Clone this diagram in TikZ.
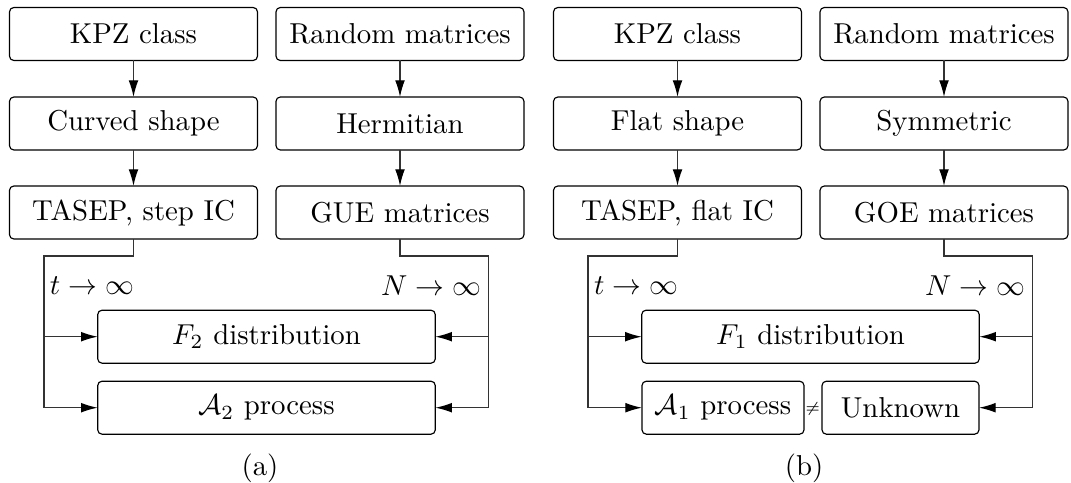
\documentclass[tikz,border=0pt]{standalone}
\usetikzlibrary{arrows.meta}
\begin{document}
\begin{tikzpicture}[x=0.3472pt,y=-0.3472pt,
  box/.style={draw,rounded corners=1.5pt,inner sep=0pt,outer sep=0pt,minimum height=18.4pt,line width=0.4pt},
  col/.style={box,minimum width=86.1pt},
  wide/.style={box,minimum width=117.2pt},
  arr/.style={line width=0.45pt,draw=black!80,-{Latex[length=5.8pt,width=3.4pt,color=black]}},
  lbl/.style={inner sep=0pt,outer sep=0pt}]
\useasboundingbox (0,0) rectangle (1071,483);
% ---------- panel (a)
\begin{scope}
\node[col] (kpza) at (133.5,34) {KPZ class};
\node[col] (cura) at (133.5,123.5) {Curved shape};
\node[col] (tasa) at (133.5,212.5) {TASEP, step IC};
\node[col] (rma) at (400,34) {Random matrices};
\node[col] (hera) at (400,123.5) {Hermitian};
\node[col] (guea) at (400,212.5) {GUE matrices};
\node[wide] (fa) at (266.5,336.7) {$F_2$ distribution};
\node[wide] (pa) at (266.5,407.7) {$\mathcal{A}_2$ process};
\draw[arr] (kpza) -- (cura);
\draw[arr] (cura) -- (tasa);
\draw[arr] (rma) -- (hera);
\draw[arr] (hera) -- (guea);
\coordinate (la) at (44,256);
\coordinate (ra) at (488.7,256);
\draw[arr] (tasa.south) |- (la) |- (pa.west);
\draw[arr] (la |- fa.west) -- (fa.west);
\draw[arr] (guea.south) |- (ra) |- (pa.east);
\draw[arr] (ra |- fa.east) -- (fa.east);
\node[lbl,anchor=west] (tla) at (50,286) {$t\to\infty$};
\node[lbl,anchor=east] (nla) at (481,286) {$N\to\infty$};
\node (capa) at (260,468) {(a)};
\end{scope}
% ---------- panel (b)
\begin{scope}[shift={(544,0)}]
\node[col] (kpzb) at (133.5,34) {KPZ class};
\node[col] (flb) at (133.5,123.5) {Flat shape};
\node[col] (tasb) at (133.5,212.5) {TASEP, flat IC};
\node[col] (rmb) at (400,34) {Random matrices};
\node[col] (symb) at (400,123.5) {Symmetric};
\node[col] (goeb) at (400,212.5) {GOE matrices};
\node[wide] (fb) at (266.5,336.7) {$F_1$ distribution};
\node[box,minimum width=56.25pt] (pb) at (179,407.7) {$\mathcal{A}_1$ process};
\node[box,minimum width=54.5pt] (ub) at (356.5,407.7) {Unknown};
\node[lbl] (neq) at (268.7,409) {\fontsize{5}{6}\selectfont$\neq$};
\draw[arr] (kpzb) -- (flb);
\draw[arr] (flb) -- (tasb);
\draw[arr] (rmb) -- (symb);
\draw[arr] (symb) -- (goeb);
\coordinate (lb) at (44,256);
\coordinate (rb) at (488.7,256);
\draw[arr] (tasb.south) |- (lb) |- (pb.west);
\draw[arr] (lb |- fb.west) -- (fb.west);
\draw[arr] (goeb.south) |- (rb) |- (ub.east);
\draw[arr] (rb |- fb.east) -- (fb.east);
\node[lbl,anchor=west] (tlb) at (50,286) {$t\to\infty$};
\node[lbl,anchor=east] (nlb) at (481,286) {$N\to\infty$};
\node (capb) at (260,468) {(b)};
\end{scope}
\end{tikzpicture}
\end{document}
